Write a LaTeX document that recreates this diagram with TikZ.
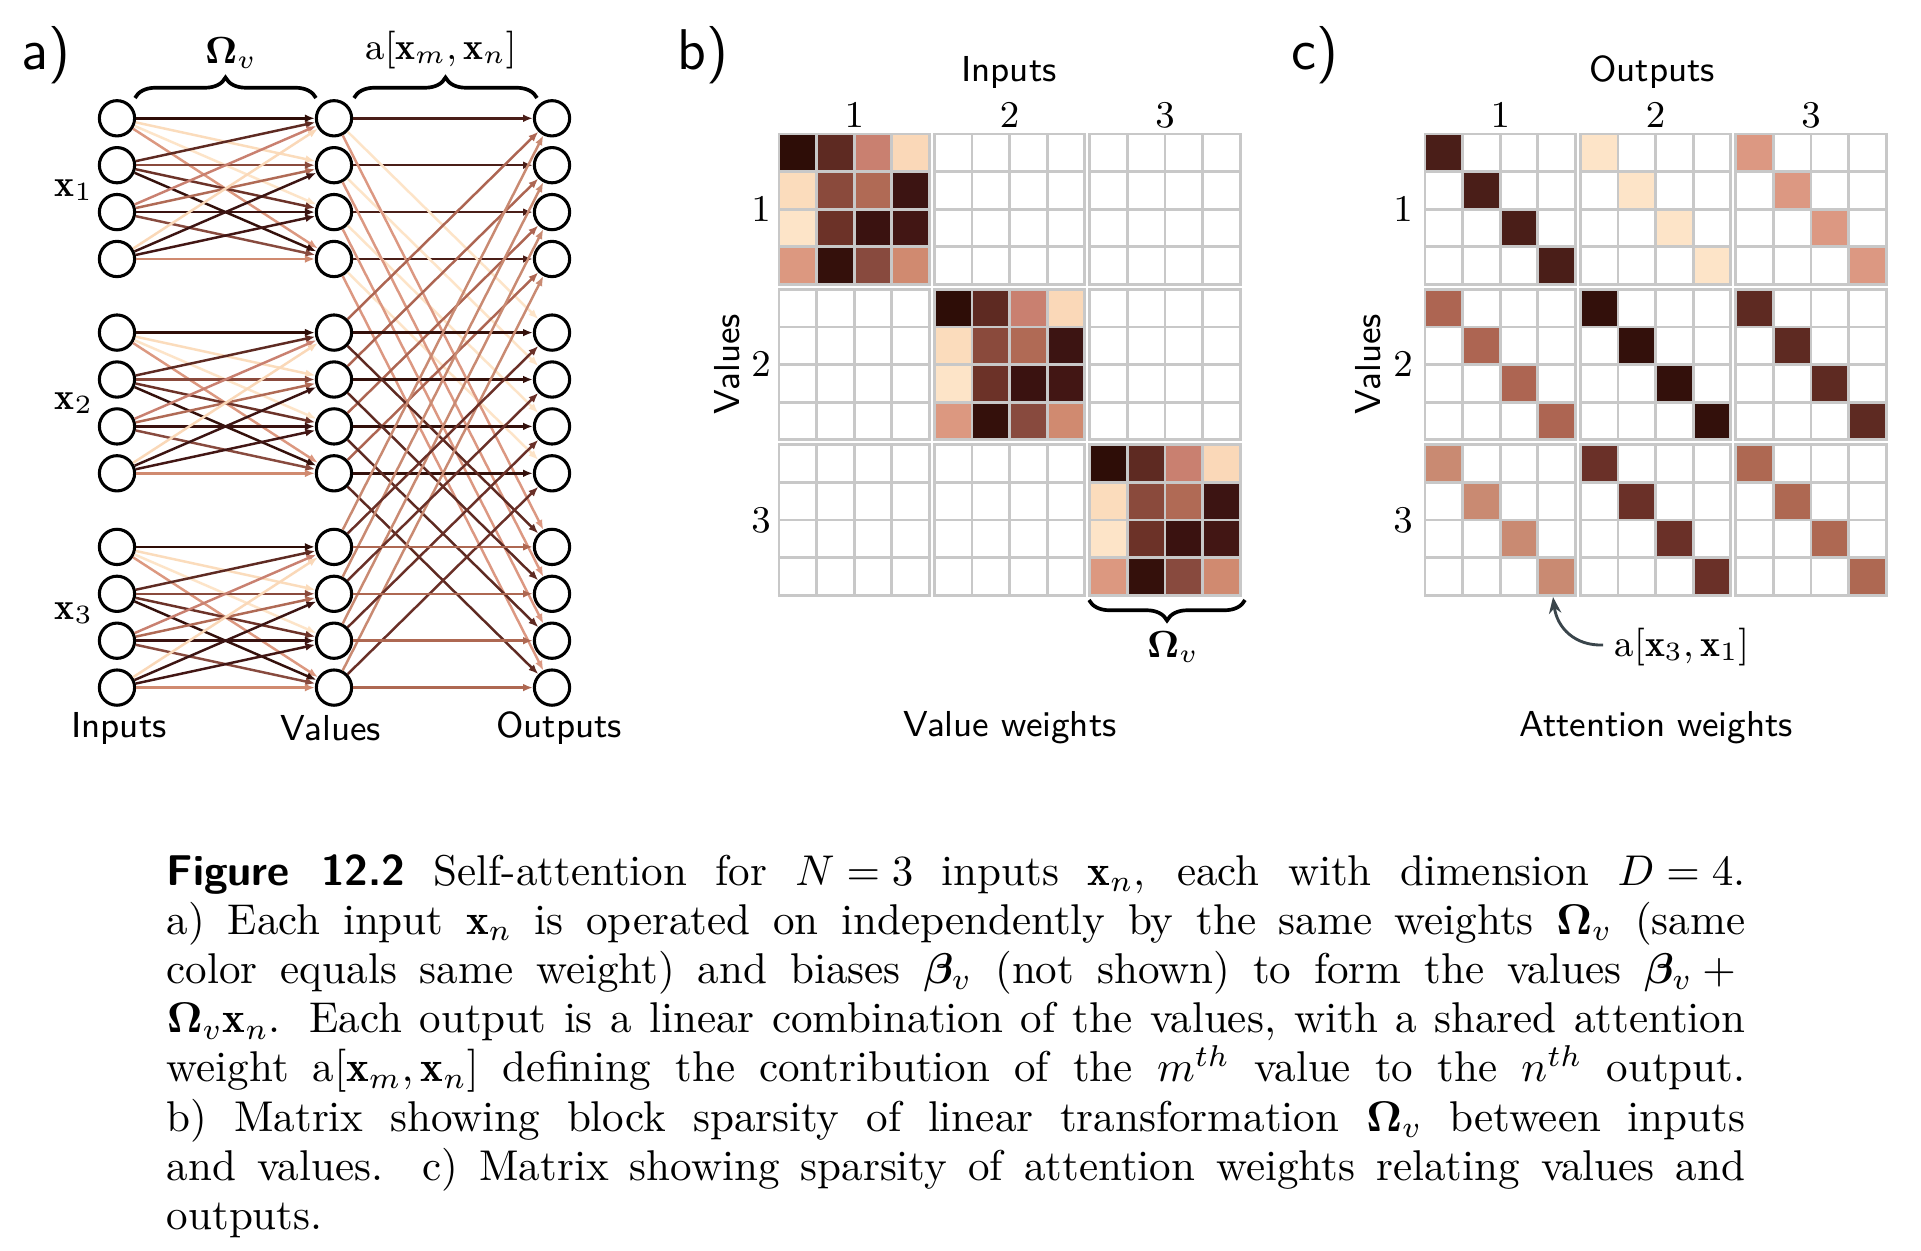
\RequirePackage{fix-cm}
\documentclass[tikz,border=0pt]{standalone}
\usepackage{amsmath,bm}
\usepackage{fontspec}
\usetikzlibrary{arrows.meta,decorations.pathreplacing}
% value weight matrix colours (row = value, column = input)
\definecolor{w11}{HTML}{2E0D07}\definecolor{w12}{HTML}{5E2A22}\definecolor{w13}{HTML}{C98070}\definecolor{w14}{HTML}{FAD8B8}
\definecolor{w21}{HTML}{FBDCBC}\definecolor{w22}{HTML}{8A4A3C}\definecolor{w23}{HTML}{B06A55}\definecolor{w24}{HTML}{3C1412}
\definecolor{w31}{HTML}{FDE4C8}\definecolor{w32}{HTML}{6C3228}\definecolor{w33}{HTML}{3A1210}\definecolor{w34}{HTML}{421614}
\definecolor{w41}{HTML}{DC9880}\definecolor{w42}{HTML}{34100B}\definecolor{w43}{HTML}{884A3E}\definecolor{w44}{HTML}{D08A70}
% attention weight colours (row = value group, column = output group)
\definecolor{a11}{HTML}{4A1E18}\definecolor{a12}{HTML}{FDE4C8}\definecolor{a13}{HTML}{DC9882}
\definecolor{a21}{HTML}{AD6552}\definecolor{a22}{HTML}{33100B}\definecolor{a23}{HTML}{5E2A22}
\definecolor{a31}{HTML}{C98A72}\definecolor{a32}{HTML}{6A3028}\definecolor{a33}{HTML}{AE6852}
\definecolor{gridgray}{HTML}{C8C8C8}
\definecolor{annot}{HTML}{3A454B}
\newcommand{\capsetup}{\fontsize{10.5}{12}\selectfont\thickmuskip=5mu\relax\medmuskip=4mu\relax}
\newcommand{\capline}[2]{\node[anchor=base west,inner sep=0pt] at (166,#1) {\capsetup\makebox[385pt][s]{#2}};}
\begin{document}
\begin{tikzpicture}[x=0.2439pt,y=-0.2439pt,
  unit/.style={circle,draw=black,line width=0.75pt,fill=white,minimum size=8.6pt,inner sep=0pt},
  conn/.style={line width=0.6pt,-{Latex[length=2.4pt,width=1.9pt]}},
  gridline/.style={draw=gridgray,line width=0.7pt,line cap=rect},
  lab/.style={font=\fontsize{8.8}{10}\selectfont\sffamily,inner sep=0pt},
  mlab/.style={font=\fontsize{9.2}{11}\selectfont,inner sep=0pt},
  plab/.style={font=\fontsize{14}{16}\selectfont\sffamily,inner sep=0pt},
  brc/.style={decorate,decoration={brace,amplitude=5pt},line width=0.9pt},
  annarrow/.style={draw=annot,line width=0.7pt,-{Stealth[length=4pt,width=3pt]}}
]
\fill[white] (0,0) rectangle (1921,1250);
\useasboundingbox (0,0) rectangle (1921,1250);

% ---------------- panel a ----------------
\node[plab] (pa) at (46,55) {a)};
\foreach \g in {1,2,3}{
  \foreach \k in {1,...,4}{
    \pgfmathsetmacro\yy{118.3+214.3*(\g-1)+46.9*(\k-1)}
    \node[unit] (i-\g-\k) at (117,\yy) {};
    \node[unit] (v-\g-\k) at (334,\yy) {};
    \node[unit] (o-\g-\k) at (552,\yy) {};
  }
}
% inputs -> values
\foreach \g in {1,2,3}{
  \foreach \k in {1,...,4}{
    \foreach \j in {1,...,4}{
      \draw[conn,color=w\j\k] (i-\g-\k) -- (v-\g-\j);
    }
  }
}
% values -> outputs
\foreach \m in {1,2,3}{
  \foreach \n in {1,2,3}{
    \foreach \d in {1,...,4}{
      \draw[conn,color=a\m\n] (v-\m-\d) -- (o-\n-\d);
    }
  }
}
\coordinate (b1l) at (135,98); \coordinate (b1r) at (316,98);
\coordinate (b2l) at (354,98); \coordinate (b2r) at (537,98);
\draw[brc] (b1l) -- (b1r);
\draw[brc] (b2l) -- (b2r);
\node[mlab] (omA) at (231,53) {$\boldsymbol{\Omega}_v$};
\node[mlab] (amn) at (441,50) {$\mathrm{a}[\mathbf{x}_m,\mathbf{x}_n]$};
\node[mlab] (x1) at (74,190) {$\mathbf{x}_1$};
\node[mlab] (x2) at (74,403) {$\mathbf{x}_2$};
\node[mlab] (x3) at (74,613) {$\mathbf{x}_3$};
\node[lab] (inA) at (119,728) {Inputs};
\node[lab] (vaA) at (331,728) {Values};
\node[lab] (ouA) at (559,728) {Outputs};

% ---------------- panel b ----------------
\node[plab] (pb) at (703,55) {b)};
\node[lab] (inB) at (1009,72) {Inputs};
\node[lab,rotate=90] (vaB) at (727,364) {Values};
\foreach \r in {1,2,3}{
  \foreach \c in {1,2,3}{
    \pgfmathsetmacro\X{779+(\c-1)*155.4}
    \pgfmathsetmacro\Y{134+(\r-1)*155.4}
    \ifnum\r=\c
      \foreach \i in {1,...,4}{
        \foreach \j in {1,...,4}{
          \fill[fill=w\i\j] (\X+\j*37.6-37.6,\Y+\i*37.6-37.6) rectangle ++(37.6,37.6);
        }
      }
    \fi
    \foreach \t in {0,...,4}{
      \draw[gridline] (\X+\t*37.6,\Y) -- ++(0,150.4);
      \draw[gridline] (\X,\Y+\t*37.6) -- ++(150.4,0);
    }
  }
}
\foreach \c in {1,2,3}{
  \node[mlab] (bc\c) at (779+75.2+155.4*\c-155.4,115) {$\c$};
  \node[mlab] (br\c) at (761,134+75.2+155.4*\c-155.4) {$\c$};
}
\coordinate (b3l) at (1089,600); \coordinate (b3r) at (1245,600);
\draw[brc] (b3r) -- (b3l);
\node[mlab] (omB) at (1173,647) {$\boldsymbol{\Omega}_v$};
\node[lab] (vw) at (1010,728) {Value weights};

% ---------------- panel c ----------------
\node[plab] (pc) at (1315,55) {c)};
\node[lab] (ouC) at (1652,72) {Outputs};
\node[lab,rotate=90] (vaC) at (1368,364) {Values};
\foreach \r in {1,2,3}{
  \foreach \c in {1,2,3}{
    \pgfmathsetmacro\X{1425+(\c-1)*155.4}
    \pgfmathsetmacro\Y{134+(\r-1)*155.4}
    \foreach \i in {1,...,4}{
      \fill[fill=a\r\c] (\X+\i*37.6-37.6,\Y+\i*37.6-37.6) rectangle ++(37.6,37.6);
    }
    \foreach \t in {0,...,4}{
      \draw[gridline] (\X+\t*37.6,\Y) -- ++(0,150.4);
      \draw[gridline] (\X,\Y+\t*37.6) -- ++(150.4,0);
    }
  }
}
\foreach \c in {1,2,3}{
  \node[mlab] (cc\c) at (1425+75.2+155.4*\c-155.4,115) {$\c$};
  \node[mlab] (cr\c) at (1403,134+75.2+155.4*\c-155.4) {$\c$};
}
\node[mlab] (ann) at (1682,647) {$\mathrm{a}[\mathbf{x}_3,\mathbf{x}_1]$};
\coordinate (anns) at (1603,645);
\coordinate (annt) at (1553,597);
\draw[annarrow] (anns) .. controls (1575,646) and (1557,628) .. (annt);
\node[lab] (aw) at (1656,728) {Attention weights};

% ---------------- caption ----------------
\capline{885}{{\sffamily\bfseries Figure 12.2} Self-attention for $N=3$ inputs $\mathbf{x}_n$, each with dimension $D=4$.}
\capline{934.2}{a) Each input $\mathbf{x}_n$ is operated on independently by the same weights $\boldsymbol{\Omega}_v$ (same}
\capline{983.4}{color equals same weight) and biases $\boldsymbol{\beta}_v$ (not shown) to form the values $\boldsymbol{\beta}_v+{}$}
\capline{1032.6}{$\boldsymbol{\Omega}_v\mathbf{x}_n$. Each output is a linear combination of the values, with a shared attention}
\capline{1081.8}{weight $\mathrm{a}[\mathbf{x}_m,\mathbf{x}_n]$ defining the contribution of the $m^{th}$ value to the $n^{th}$ output.}
\capline{1131}{b) Matrix showing block sparsity of linear transformation $\boldsymbol{\Omega}_v$ between inputs}
\capline{1180.2}{and values. c) Matrix showing sparsity of attention weights relating values and}
\node[anchor=base west,inner sep=0pt] (cap8) at (166,1229.4) {\capsetup outputs.};
\end{tikzpicture}
\end{document}
